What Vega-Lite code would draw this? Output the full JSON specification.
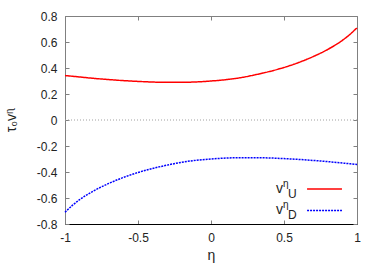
{
  "$schema": "https://vega.github.io/schema/vega-lite/v6.json",
  "width": 292,
  "height": 208,
  "autosize": "none",
  "padding": {"left": 65, "top": 16, "right": 25, "bottom": 43},
  "background": "white",
  "config": {
    "view": {"stroke": "#808080", "strokeWidth": 1},
    "font": "Liberation Sans",
    "axis": {"grid": false, "tickSize": -4, "tickColor": "#808080", "domainColor": "#808080", "labelFlush": false, "labelFont": "Liberation Sans", "labelFontSize": 12, "labelColor": "#222", "titleFont": "Liberation Sans", "titleFontWeight": "normal", "titleColor": "#222"}
  },
  "datasets": {
    "curves": [
      {"eta": -1.0, "series": "U", "v": 0.342}, {"eta": -0.9, "series": "U", "v": 0.331}, {"eta": -0.8, "series": "U", "v": 0.320}, {"eta": -0.7, "series": "U", "v": 0.311}, {"eta": -0.6, "series": "U", "v": 0.303}, {"eta": -0.5, "series": "U", "v": 0.297}, {"eta": -0.4, "series": "U", "v": 0.292}, {"eta": -0.3, "series": "U", "v": 0.290}, {"eta": -0.2, "series": "U", "v": 0.290}, {"eta": -0.1, "series": "U", "v": 0.293}, {"eta": 0.0, "series": "U", "v": 0.300}, {"eta": 0.1, "series": "U", "v": 0.310}, {"eta": 0.2, "series": "U", "v": 0.325}, {"eta": 0.3, "series": "U", "v": 0.347}, {"eta": 0.4, "series": "U", "v": 0.373}, {"eta": 0.5, "series": "U", "v": 0.404}, {"eta": 0.6, "series": "U", "v": 0.442}, {"eta": 0.7, "series": "U", "v": 0.488}, {"eta": 0.8, "series": "U", "v": 0.543}, {"eta": 0.9, "series": "U", "v": 0.613}, {"eta": 0.95, "series": "U", "v": 0.657}, {"eta": 1.0, "series": "U", "v": 0.710},
      {"eta": -1.0, "series": "D", "v": -0.710}, {"eta": -0.95, "series": "D", "v": -0.657}, {"eta": -0.9, "series": "D", "v": -0.613}, {"eta": -0.8, "series": "D", "v": -0.543}, {"eta": -0.7, "series": "D", "v": -0.488}, {"eta": -0.6, "series": "D", "v": -0.442}, {"eta": -0.5, "series": "D", "v": -0.404}, {"eta": -0.4, "series": "D", "v": -0.373}, {"eta": -0.3, "series": "D", "v": -0.347}, {"eta": -0.2, "series": "D", "v": -0.325}, {"eta": -0.1, "series": "D", "v": -0.310}, {"eta": 0.0, "series": "D", "v": -0.300}, {"eta": 0.1, "series": "D", "v": -0.293}, {"eta": 0.2, "series": "D", "v": -0.290}, {"eta": 0.3, "series": "D", "v": -0.290}, {"eta": 0.4, "series": "D", "v": -0.292}, {"eta": 0.5, "series": "D", "v": -0.297}, {"eta": 0.6, "series": "D", "v": -0.303}, {"eta": 0.7, "series": "D", "v": -0.311}, {"eta": 0.8, "series": "D", "v": -0.320}, {"eta": 0.9, "series": "D", "v": -0.331}, {"eta": 1.0, "series": "D", "v": -0.342}
    ],
    "one": [{}]
  },
  "resolve": {"axis": {"x": "independent", "y": "independent"}},
  "layer": [
    {
      "data": {"name": "one"},
      "mark": {"type": "rule", "color": "#a0a0a0", "strokeDash": [1, 2], "strokeWidth": 1},
      "encoding": {
        "x": {"datum": -1, "axis": {"orient": "top", "title": null, "labels": false, "values": [-1, -0.5, 0, 0.5, 1], "domain": false}},
        "x2": {"datum": 1},
        "y": {"datum": 0, "axis": {"orient": "right", "title": null, "labels": false, "values": [-0.8, -0.6, -0.4, -0.2, 0, 0.2, 0.4, 0.6, 0.8], "domain": false}}
      }
    },
    {
      "data": {"name": "curves"},
      "mark": {"type": "line", "strokeWidth": 1.5, "interpolate": "monotone"},
      "encoding": {
        "x": {"field": "eta", "type": "quantitative", "scale": {"domain": [-1, 1], "nice": false, "zero": false},
              "axis": {"orient": "bottom", "title": "η", "values": [-1, -0.5, 0, 0.5, 1], "labelExpr": "'' + datum.value", "labelPadding": 12, "domainColor": "black", "titleFontSize": 14, "titlePadding": 5}},
        "y": {"field": "v", "type": "quantitative", "scale": {"domain": [-0.8, 0.8], "nice": false, "zero": false},
              "axis": {"orient": "left", "title": "τ₀vᶯ", "values": [-0.8, -0.6, -0.4, -0.2, 0, 0.2, 0.4, 0.6, 0.8], "labelExpr": "'' + datum.value", "labelPadding": 12, "titleFontSize": 14, "titleX": -54, "titleY": 104, "titleAngle": 270, "titleBaseline": "middle", "titleAlign": "center"}},
        "color": {"field": "series", "type": "nominal", "scale": {"domain": ["U", "D"], "range": ["#ff0000", "#0000ff"]}, "legend": null},
        "strokeDash": {"field": "series", "type": "nominal", "scale": {"domain": ["U", "D"], "range": [[1, 0], [2, 1]]}, "legend": null}
      }
    },
    {
      "data": {"name": "one"},
      "mark": {"type": "rule", "color": "#ff0000", "strokeWidth": 1.5},
      "encoding": {"x": {"datum": 0.658, "axis": null}, "x2": {"datum": 0.897}, "y": {"datum": -0.531, "axis": null}}
    },
    {
      "data": {"name": "one"},
      "mark": {"type": "rule", "color": "#0000ff", "strokeWidth": 1.5, "strokeDash": [2, 1]},
      "encoding": {"x": {"datum": 0.658, "axis": null}, "x2": {"datum": 0.897}, "y": {"datum": -0.696, "axis": null}}
    },
    {
      "data": {"name": "one"},
      "mark": {"type": "text", "text": "v", "fontSize": 14, "align": "left", "baseline": "alphabetic", "dy": 4, "color": "#222"},
      "encoding": {"x": {"datum": 0.445, "axis": null}, "y": {"datum": -0.531, "axis": null}}
    },
    {
      "data": {"name": "one"},
      "mark": {"type": "text", "text": "η", "fontSize": 10, "align": "left", "baseline": "alphabetic", "dx": 7, "dy": -2, "color": "#222"},
      "encoding": {"x": {"datum": 0.445, "axis": null}, "y": {"datum": -0.531, "axis": null}}
    },
    {
      "data": {"name": "one"},
      "mark": {"type": "text", "text": "U", "fontSize": 12, "align": "left", "baseline": "alphabetic", "dx": 12, "dy": 9, "color": "#222"},
      "encoding": {"x": {"datum": 0.445, "axis": null}, "y": {"datum": -0.531, "axis": null}}
    },
    {
      "data": {"name": "one"},
      "mark": {"type": "text", "text": "v", "fontSize": 14, "align": "left", "baseline": "alphabetic", "dy": 4, "color": "#222"},
      "encoding": {"x": {"datum": 0.445, "axis": null}, "y": {"datum": -0.696, "axis": null}}
    },
    {
      "data": {"name": "one"},
      "mark": {"type": "text", "text": "η", "fontSize": 10, "align": "left", "baseline": "alphabetic", "dx": 7, "dy": -2, "color": "#222"},
      "encoding": {"x": {"datum": 0.445, "axis": null}, "y": {"datum": -0.696, "axis": null}}
    },
    {
      "data": {"name": "one"},
      "mark": {"type": "text", "text": "D", "fontSize": 12, "align": "left", "baseline": "alphabetic", "dx": 12, "dy": 9, "color": "#222"},
      "encoding": {"x": {"datum": 0.445, "axis": null}, "y": {"datum": -0.696, "axis": null}}
    }
  ]
}
